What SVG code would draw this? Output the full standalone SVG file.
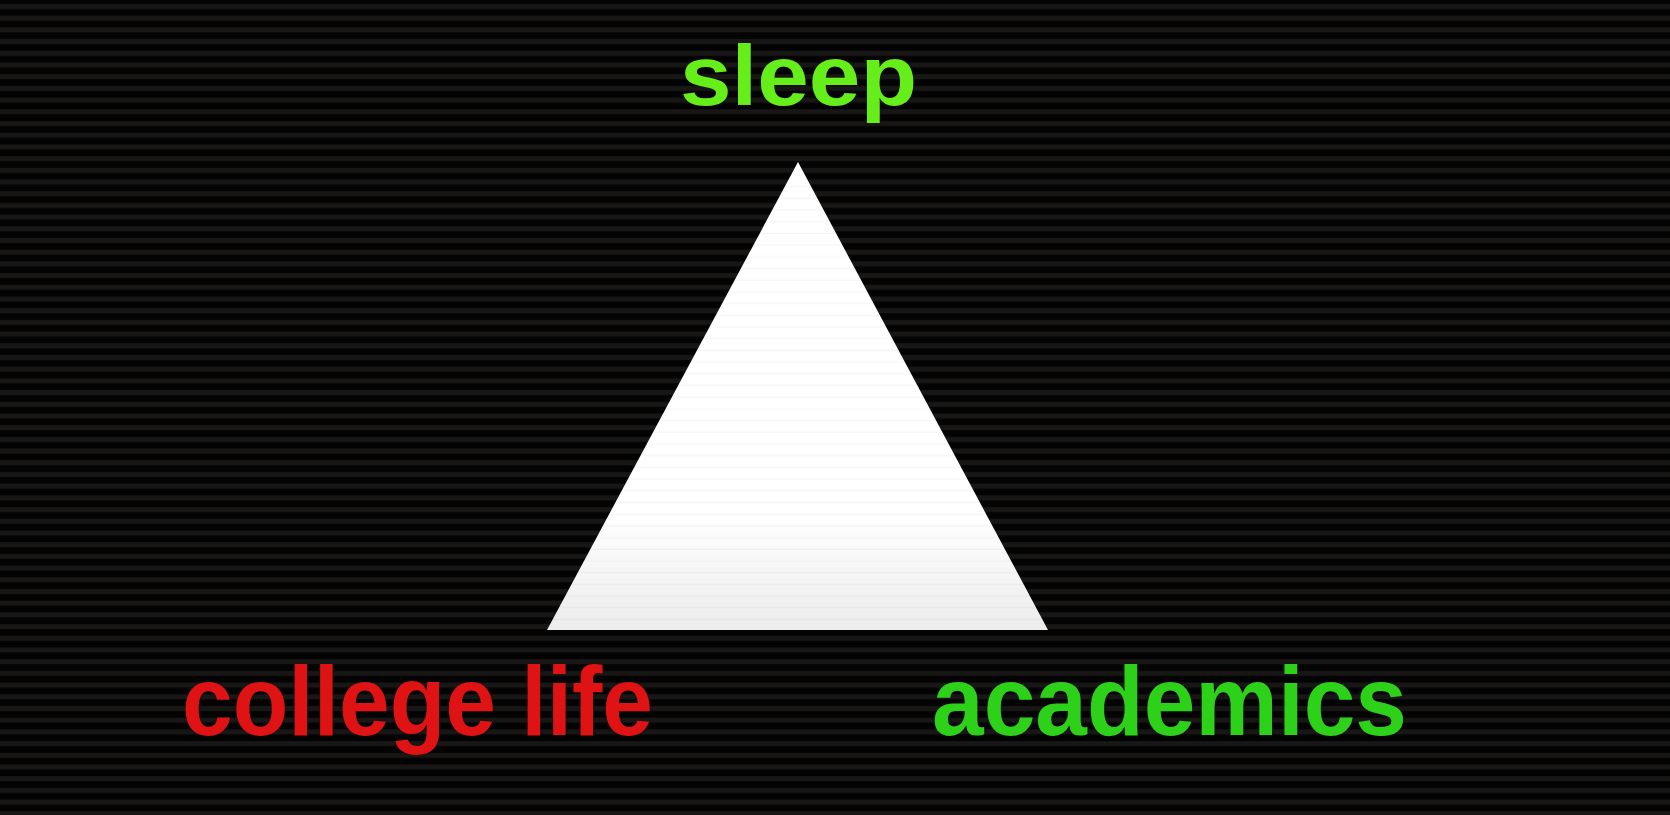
<svg xmlns="http://www.w3.org/2000/svg" width="1670" height="815" viewBox="0 0 1670 815">
<defs>
<pattern id="scan" x="0" y="0" width="20" height="11.7" patternUnits="userSpaceOnUse">
<rect x="0" y="0" width="20" height="11.7" fill="#030303"/>
<rect x="0" y="4" width="20" height="5" fill="#181716"/>
</pattern>
<linearGradient id="tri" x1="0" y1="0" x2="0" y2="1">
<stop offset="0" stop-color="#ffffff"/>
<stop offset="0.75" stop-color="#ffffff"/>
<stop offset="1" stop-color="#ececec"/>
</linearGradient>
<pattern id="triscan" x="0" y="0" width="20" height="11.7" patternUnits="userSpaceOnUse">
<rect x="0" y="10.5" width="20" height="1.2" fill="#000" fill-opacity="0.04"/>
</pattern>
</defs>
<style>
.lbl{font-family:"Liberation Sans",Arial,Helvetica,sans-serif;font-weight:bold;}
</style>
<rect id="background" x="0" y="0" width="1670" height="815" fill="url(#scan)"/>
<g id="triangle">
<polygon points="798,162 547,630 1048,630" fill="url(#tri)"/>
<polygon points="798,162 547,630 1048,630" fill="url(#triscan)"/>
</g>
<g id="connectors"></g>
<g id="node-sleep">
<text class="lbl" x="680" y="105" font-size="86" fill="#66ee1a" textLength="237" lengthAdjust="spacingAndGlyphs">sleep</text>
</g>
<g id="node-college-life">
<text class="lbl" x="182" y="735" font-size="98" fill="#df1313" textLength="471" lengthAdjust="spacingAndGlyphs">college life</text>
</g>
<g id="node-academics">
<text class="lbl" x="932" y="735" font-size="98" fill="#2dd11a" textLength="475" lengthAdjust="spacingAndGlyphs">academics</text>
</g>
</svg>
